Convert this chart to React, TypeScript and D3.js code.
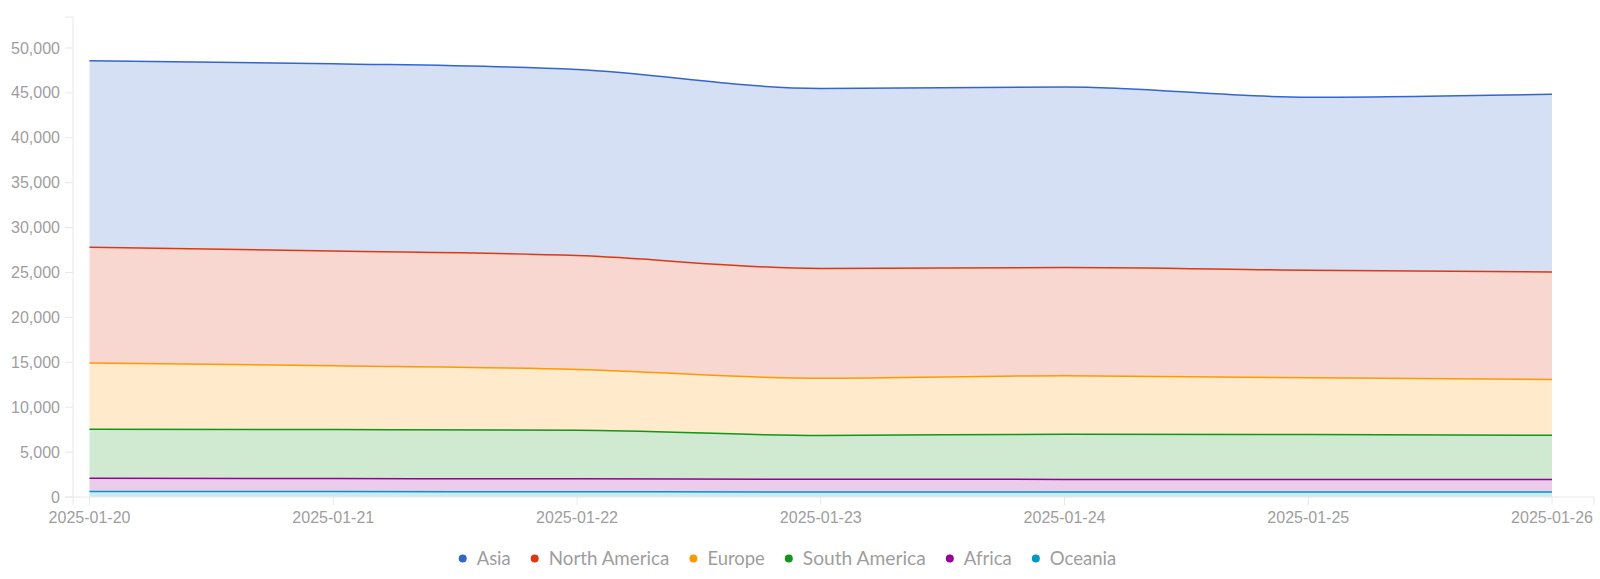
import React from 'react';
import * as d3 from 'd3';

const dates = ['2025-01-20', '2025-01-21', '2025-01-22', '2025-01-23', '2025-01-24', '2025-01-25', '2025-01-26'];
const seriesNames = ['Asia', 'North America', 'Europe', 'South America', 'Africa', 'Oceania'];
const seriesColors = ['#3366cc', '#dc3912', '#ff9900', '#109618', '#990099', '#0099c6'];

const asia = [20790, 20860, 20720, 20060, 20100, 19270, 19790];
const northAmerica = [12870, 12770, 12670, 12220, 12050, 11980, 11970];
const europe = [7380, 7110, 6770, 6370, 6500, 6320, 6220];
const southAmerica = [5470, 5460, 5420, 4870, 5040, 4990, 4910];
const africa = [1460, 1450, 1440, 1420, 1400, 1400, 1400];
const oceania = [620, 600, 580, 560, 560, 560, 560];

const seriesValues = [asia, northAmerica, europe, southAmerica, africa, oceania];
const yTicks = [0, 5000, 10000, 15000, 20000, 25000, 30000, 35000, 40000, 45000, 50000];

const legendWidths = [34, 120.7, 57.4, 123, 48, 66.5];

export default function App() {
  const W = 1600;
  const H = 579;
  const axisLeftX = 73;
  const axisRightX = 1594;
  const baseY = 497;
  const topY = 17;

  const x = d3.scalePoint<string>().domain(dates).range([89.5, 1552]);

  const rows = dates.map((d, i) => {
    const r: any = { date: d };
    seriesNames.forEach((s, k) => (r[s] = seriesValues[k][i]));
    return r;
  });
  const keysBottomFirst = [...seriesNames].reverse();
  const stacked = d3.stack<any>().keys(keysBottomFirst)(rows);
  const maxTotal = d3.max(stacked[stacked.length - 1], (d) => d[1]) as number;
  const y = d3.scaleLinear().domain([0, maxTotal * 1.1]).range([baseY, topY]);

  const area = d3
    .area<any>()
    .x((d) => x(d.data.date) as number)
    .y0((d) => y(d[0]))
    .y1((d) => y(d[1]))
    .curve(d3.curveMonotoneX);
  const line = d3
    .line<any>()
    .x((d) => x(d.data.date) as number)
    .y((d) => y(d[1]))
    .curve(d3.curveMonotoneX);

  const colorOf = (name: string) => seriesColors[seriesNames.indexOf(name)];
  const fmt = d3.format(',');

  const axisColor = '#e8e8e8';
  const labelColor = '#9e9e9e';
  const axisFont = '"Liberation Sans", Arial, sans-serif';

  // legend layout
  const legendY = 558.5;
  let cursor = 462.7;
  const legendItems = seriesNames.map((name, i) => {
    const item = { name, cx: cursor, tx: cursor + 14, w: legendWidths[i], color: seriesColors[i] };
    cursor = cursor + 14 + legendWidths[i] + 24;
    return item;
  });

  return (
    <svg
      width={W}
      height={H}
      style={{ position: 'absolute', left: 0, top: 0, display: 'block', background: '#ffffff' }}
    >
      {stacked.map((s) => (
        <path key={'a' + s.key} d={area(s) || ''} fill={colorOf(s.key)} fillOpacity={0.2} stroke="none" />
      ))}
      {stacked.map((s) => (
        <path key={'l' + s.key} d={line(s) || ''} fill="none" stroke={colorOf(s.key)} strokeWidth={1.5} />
      ))}

      <path
        d={`M${axisLeftX - 8},${baseY}H${axisLeftX}V${topY}H${axisLeftX - 8}`}
        fill="none"
        stroke={axisColor}
        strokeWidth={1}
      />
      {yTicks.map((t) => (
        <g key={'yt' + t} transform={`translate(0,${y(t)})`}>
          <line x1={axisLeftX - 8} x2={axisLeftX} stroke={axisColor} />
          <text
            x={axisLeftX - 13}
            dy="0.35em"
            textAnchor="end"
            fontFamily={axisFont}
            fontSize={16}
            fill={labelColor}
          >
            {fmt(t)}
          </text>
        </g>
      ))}

      <path
        d={`M${axisLeftX},${baseY + 8}V${baseY}H${axisRightX}V${baseY + 8}`}
        fill="none"
        stroke={axisColor}
        strokeWidth={1}
      />
      {dates.map((d) => (
        <g key={'xt' + d} transform={`translate(${x(d)},0)`}>
          <line y1={baseY} y2={baseY + 8} stroke={axisColor} />
          <text y={baseY + 26} textAnchor="middle" fontFamily={axisFont} fontSize={16} fill={labelColor}>
            {d}
          </text>
        </g>
      ))}

      {legendItems.map((it) => (
        <g key={'lg' + it.name}>
          <circle cx={it.cx} cy={legendY} r={4} fill={it.color} />
          <text
            x={it.tx}
            y={legendY + 6.5}
            fontFamily='Lato, "Noto Sans", sans-serif'
            fontSize={18.5}
            fill={labelColor}
            textLength={it.w}
            lengthAdjust="spacingAndGlyphs"
          >
            {it.name}
          </text>
        </g>
      ))}
    </svg>
  );
}
